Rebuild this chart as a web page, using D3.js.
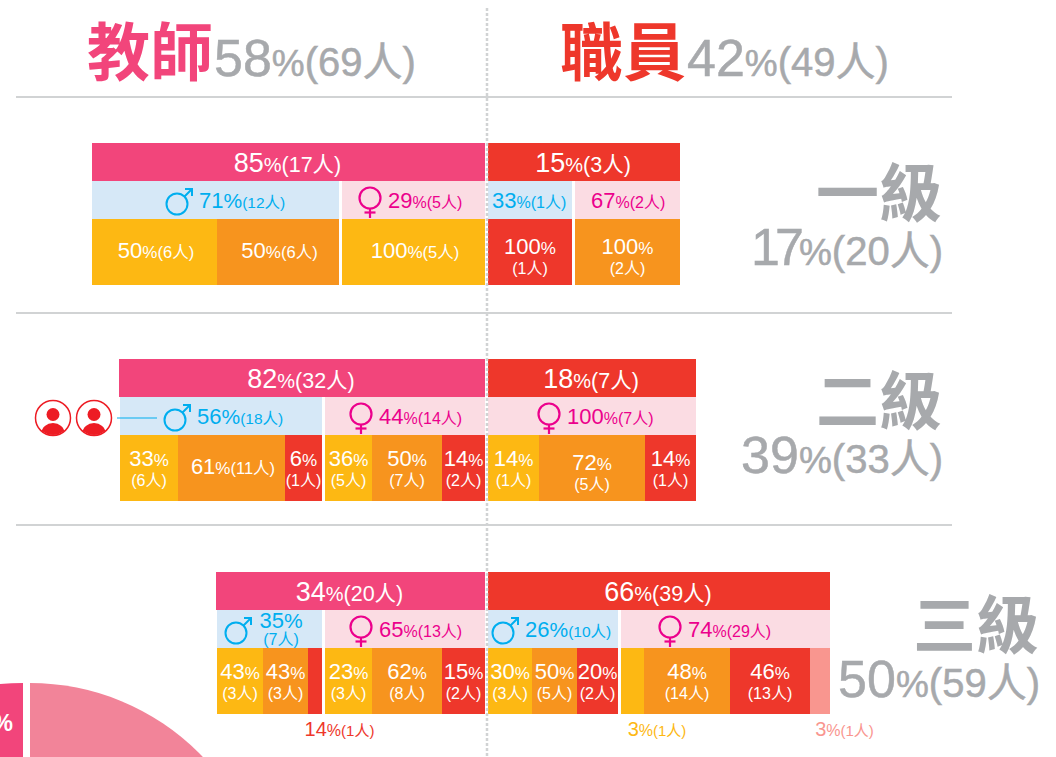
<!DOCTYPE html>
<html>
<head>
<meta charset="utf-8">
<script src="https://cdn.jsdelivr.net/npm/d3@7"></script>
<style>
    html, body { margin: 0; padding: 0; background: #fff; overflow: hidden; }
    svg { display: block; }
    text { font-family: "Liberation Sans", "Noto Sans CJK TC", sans-serif; }
    .cjk { font-family: "Noto Sans CJK TC", sans-serif; font-weight: 700; }
</style>
</head>
<body>
<svg id="chart" width="1056" height="757"></svg>
<script>
/*************************************************************************/
// values, each pair is [percent, people], one entry per level

const levels = ['一級', '二級', '三級'];
const levelTotals = [[17, 20], [39, 33], [50, 59]];
const groupNames = ['教師', '職員'];
const groupTotals = [[58, 69], [42, 49]];

const teacherTotals = [[85, 17], [82, 32], [34, 20]];
const staffTotals = [[15, 3], [18, 7], [66, 39]];

const teacherMale = [[71, 12], [56, 18], [35, 7]];
const teacherFemale = [[29, 5], [44, 14], [65, 13]];
const staffMale = [[33, 1], null, [26, 10]];
const staffFemale = [[67, 2], [100, 7], [74, 29]];

// [percent, people, colour index]
const teacherMaleDetail = [
    [[50, 6, 0], [50, 6, 1]],
    [[33, 6, 0], [61, 11, 1], [6, 1, 2]],
    [[43, 3, 0], [43, 3, 1], [14, 1, 2]]
];
const teacherFemaleDetail = [
    [[100, 5, 0]],
    [[36, 5, 0], [50, 7, 1], [14, 2, 2]],
    [[23, 3, 0], [62, 8, 1], [15, 2, 2]]
];
const staffMaleDetail = [
    [[100, 1, 2]],
    null,
    [[30, 3, 0], [50, 5, 1], [20, 2, 2]]
];
const staffFemaleDetail = [
    [[100, 2, 1]],
    [[14, 1, 0], [72, 5, 1], [14, 1, 2]],
    [[3, 1, 0], [48, 14, 1], [46, 13, 2], [3, 1, 3]]
];

const pieShares = [75, 25];

/*************************************************************************/
// layout. the reference does not draw its segments to scale, so every
// stack gets a piecewise scale from cumulative percent to these edges

const rowTops = [143, 359, 572];
const teacherEdges = [[92, 485], [119, 485], [216, 485]];
const staffEdges = [[488, 680], [488, 696], [488, 830]];

const teacherMaleEdges = [[92, 217, 339], [120, 178, 285, 322], [217, 263, 308, 322]];
const teacherFemaleEdges = [[342, 485], [325, 372, 442, 485], [325, 372, 442, 485]];
const staffMaleEdges = [[488, 572], null, [488, 532, 577, 618]];
const staffFemaleEdges = [[575, 680], [488, 539, 645, 696], [621, 644, 730, 810, 830]];

// where the gender label text starts
const teacherMaleText = [199, 197, 258];
const teacherFemaleText = [388, 379, 379];
const staffMaleText = [492, null, 525];
const staffFemaleText = [591, 567, 688];
const noIconBefore = [492, 591];

// two line labels that sit a little lower in their segment
const lowerLabels = [100, 72];

const colors = {
    pink: '#f2457b', red: '#ee372b', grey: '#a7a9ac', rule: '#d1d3d4',
    blue: '#00aeef', magenta: '#ec008c', paleBlue: '#d6e8f7', palePink: '#fbdce3',
    person: '#ed1c24', pie: '#f28499'
};
const detailColors = ['#fdb813', '#f7941e', '#ee372b', '#f9968f'];

/*************************************************************************/

d3.selection.prototype.attrs = function(map){
    Object.keys(map).forEach(k => this.attr(k, map[k]));
    return this;
};

const svg = d3.select('#chart');

function stackScale(values, edges){
    const domain = [0].concat(Array.from(d3.cumsum(values)));
    return d3.scaleLinear().domain(domain).range(edges);
}

// "85%(17人)" with a smaller percent sign and people count
function label(parent, x, y, pair, sizes, fill, anchor){
    const t = parent.append('text')
        .attrs({ x: x, y: y, fill: fill, 'text-anchor': anchor || 'middle' });
    t.append('tspan').attr('font-size', sizes[0]).text(pair[0]);
    t.append('tspan').attr('font-size', sizes[1]).text('%');
    t.append('tspan').attr('font-size', sizes[2]).text('(' + pair[1] + '人)');
    return t;
}

// percent on top, people below
function label2(parent, x, y, pair, sizes, fill, lineGap){
    const t = parent.append('text').attrs({ x: x, y: y, fill: fill, 'text-anchor': 'middle' });
    t.append('tspan').attr('font-size', sizes[0]).text(pair[0]);
    t.append('tspan').attr('font-size', sizes[1]).text('%');
    parent.append('text')
        .attrs({ x: x, y: y + lineGap, fill: fill, 'text-anchor': 'middle', 'font-size': sizes[2] })
        .text('(' + pair[1] + '人)');
}

function maleIcon(parent, cx, cy){
    parent.append('circle').attrs({ cx: cx, cy: cy, r: 10.5, fill: 'none', stroke: colors.blue, 'stroke-width': 2 });
    parent.append('path')
        .attrs({ d: d3.line()([[cx + 7.5, cy - 7.5], [cx + 15, cy - 15]]), fill: 'none', stroke: colors.blue, 'stroke-width': 2 });
    parent.append('path')
        .attrs({ d: d3.line()([[cx + 8, cy - 15], [cx + 15, cy - 15], [cx + 15, cy - 8]]), fill: 'none', stroke: colors.blue, 'stroke-width': 2 });
}

function femaleIcon(parent, cx, cy){
    parent.append('circle').attrs({ cx: cx, cy: cy, r: 10.5, fill: 'none', stroke: colors.magenta, 'stroke-width': 2.2 });
    parent.append('path')
        .attrs({ d: d3.line()([[cx, cy + 11], [cx, cy + 20]]), fill: 'none', stroke: colors.magenta, 'stroke-width': 2.2 });
    parent.append('path')
        .attrs({ d: d3.line()([[cx - 5.5, cy + 14.5], [cx + 5.5, cy + 14.5]]), fill: 'none', stroke: colors.magenta, 'stroke-width': 2.2 });
}

/*************************************************************************/
// headers and rules

[[16, 97], [16, 313], [16, 525]].forEach(d => {
    svg.append('line').attrs({ x1: d[0], x2: 952, y1: d[1], y2: d[1], stroke: colors.rule, 'stroke-width': 2 });
});

const headSizes = [52, 37, 40];
const headX = [87, 560];
const headColor = [colors.pink, colors.red];
groupNames.forEach((name, i) => {
    svg.append('text')
        .attrs({ x: headX[i], y: 75, 'font-size': 63, fill: headColor[i], 'class': 'cjk' })
        .text(name);
    label(svg, headX[i] + 127, 76, groupTotals[i], headSizes, colors.grey, 'start')
        .attrs({ stroke: colors.grey, 'stroke-width': 0.5 });
});

/*************************************************************************/
// pie slices running off the bottom of the page

const pieArc = d3.arc().innerRadius(0).outerRadius(239);
const pieAngle = d3.scaleLinear().domain([0, 100]).range([0, 2 * Math.PI]);

svg.append('path')
    .attrs({ d: pieArc({ startAngle: 0, endAngle: pieAngle(pieShares[1]) }), transform: 'translate(30,922)', fill: colors.pie });
svg.append('path')
    .attrs({ d: pieArc({ startAngle: -pieAngle(pieShares[1]), endAngle: 0 }), transform: 'translate(23,922)', fill: colors.pink });
svg.append('text')
    .attrs({ x: 13, y: 731, 'font-size': 23, 'font-weight': 700, fill: '#fff', 'text-anchor': 'end' })
    .text('%');

/*************************************************************************/
// one level: total bar, gender bar, detail bar

function drawGender(row, pair, edges, textX, isMale, top){
    if(!pair) return;
    const x = d3.scaleLinear().domain([0, 100]).range([edges[0], edges[edges.length - 1]]);
    const g = svg.append('g');
    g.append('rect')
        .attrs({ x: x(0), y: top + 38, width: x(100) - x(0), height: 38, fill: isMale ? colors.paleBlue : colors.palePink });

    const color = isMale ? colors.blue : colors.magenta;
    const hasIcon = noIconBefore.indexOf(textX) < 0;
    if(hasIcon){
        if(isMale) maleIcon(g, textX - 22, top + 61);
        else femaleIcon(g, textX - 18, top + 55);
    }
    if(row === 2 && textX === teacherMaleText[2]){
        label2(g, 281, top + 56, pair, [22, 21, 16], color, 17);
        return;
    }
    const sizes = (isMale && hasIcon) ? [22, 21, 15.5] : [22, 16, 16];
    label(g, textX, top + 65, pair, sizes, color, 'start');
}

function drawDetail(detail, edges, top){
    if(!detail) return;
    const x = stackScale(detail.map(d => d[0]), edges);
    let sum = 0;
    const segs = detail.map(d => {
        const s = { value: d, x0: x(sum), x1: x(sum + d[0]) };
        sum += d[0];
        return s;
    });

    const g = svg.append('g');
    segs.forEach(s => {
        g.append('rect').attrs({
            x: s.x0, y: top + 76, height: 66,
            width: s.x1 - s.x0,
            fill: detailColors[s.value[2]]
        });
    });

    segs.forEach(s => {
        const w = s.x1 - s.x0;
        const cx = (s.x0 + s.x1) / 2;
        if(w < 25){
            label(g, cx + 24.5, top + 164, s.value, [20, 16, 15], detailColors[s.value[2]]);
        } else if(w > 106.5){
            label(g, cx + 1.5, top + 115, s.value, [22, 17, 16.5], '#fff');
        } else {
            const dy = lowerLabels.indexOf(s.value[0]) >= 0 ? 110.5 : 107;
            label2(g, cx, top + dy, s.value, [22, 17, 16], '#fff', 20);
        }
    });
}

levels.forEach((name, i) => {
    const top = rowTops[i];

    // total bars
    [[teacherEdges[i], teacherTotals[i], colors.pink], [staffEdges[i], staffTotals[i], colors.red]].forEach(d => {
        const x = d3.scaleLinear().domain([0, 100]).range(d[0]);
        svg.append('rect').attrs({ x: x(0), y: top, width: x(100) - x(0), height: 38, fill: d[2] });
        label(svg, x(50) - 1, top + 29, d[1], [27, 20, 21.5], '#fff');
    });

    drawGender(i, teacherMale[i], teacherMaleEdges[i], teacherMaleText[i], true, top);
    drawGender(i, teacherFemale[i], teacherFemaleEdges[i], teacherFemaleText[i], false, top);
    drawGender(i, staffMale[i], staffMaleEdges[i], staffMaleText[i], true, top);
    drawGender(i, staffFemale[i], staffFemaleEdges[i], staffFemaleText[i], false, top);

    drawDetail(teacherMaleDetail[i], teacherMaleEdges[i], top);
    drawDetail(teacherFemaleDetail[i], teacherFemaleEdges[i], top);
    drawDetail(staffMaleDetail[i], staffMaleEdges[i], top);
    drawDetail(staffFemaleDetail[i], staffFemaleEdges[i], top);
});

/*************************************************************************/
// level names on the right

const levelRight = [943, 943, 1040];
const levelY = [265, 473, 697];
levels.forEach((name, i) => {
    svg.append('text')
        .attrs({ x: levelRight[i] - 1, y: levelY[i] - 49, 'font-size': 63, fill: colors.grey, 'text-anchor': 'end', 'class': 'cjk' })
        .text(name);
    const t = label(svg, levelRight[i], levelY[i], levelTotals[i], headSizes, colors.grey, 'end')
        .attrs({ stroke: colors.grey, 'stroke-width': 0.5 });
    // the 1 is set tighter in the reference
    if(String(levelTotals[i][0])[0] === '1') t.select('tspan').attr('letter-spacing', -5);
});

/*************************************************************************/
// two person icons with a leader line into the level two male bar

svg.append('clipPath').attr('id', 'personClip').append('circle').attr('r', 17);
[53, 94].forEach(cx => {
    const g = svg.append('g').attr('transform', 'translate(' + cx + ',418)');
    g.append('circle').attrs({ r: 17.5, fill: '#fff', stroke: colors.person, 'stroke-width': 1.5 });
    g.append('circle').attrs({ cy: -3.5, r: 6.5, fill: colors.person });
    g.append('ellipse').attrs({ cy: 15, rx: 11.5, ry: 10, fill: colors.person, 'clip-path': 'url(#personClip)' });
});
svg.append('line').attrs({ x1: 117, x2: 157, y1: 418, y2: 418, stroke: colors.blue, 'stroke-width': 1 });

// dotted divider
svg.append('line')
    .attrs({ x1: 487, x2: 487, y1: 8, y2: 757, stroke: colors.rule, 'stroke-width': 2.5, 'stroke-dasharray': '3 2' });
</script>
</body>
</html>
